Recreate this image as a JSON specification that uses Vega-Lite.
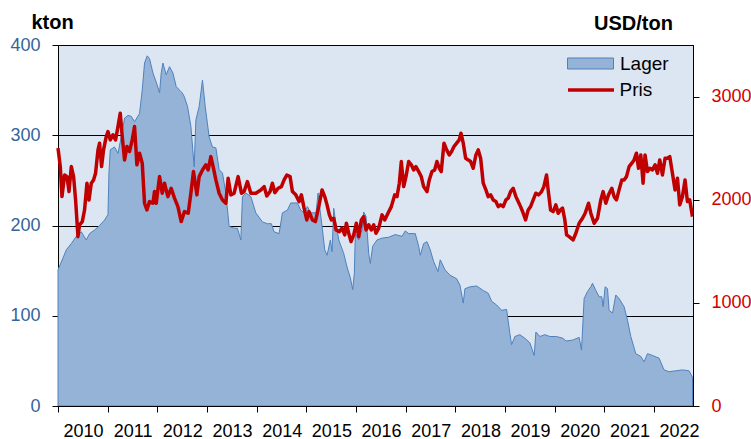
{
  "$schema": "https://vega.github.io/schema/vega-lite/v6.json",
  "width": 635,
  "height": 361,
  "autosize": {"type": "none"},
  "padding": {"left": 58, "top": 45, "right": 58, "bottom": 33},
  "background": "white",
  "config": {
    "view": {"fill": "#dce6f2", "stroke": "black", "strokeWidth": 1},
    "font": "Liberation Sans",
    "axis": {
      "domainColor": "black", "domainWidth": 1, "tickColor": "black", "tickWidth": 1,
      "gridColor": "black", "gridOpacity": 1, "gridWidth": 1,
      "labelFont": "Liberation Sans", "labelFontSize": 18, "tickSize": 6,
      "titleFont": "Liberation Sans", "titleColor": "black"
    },
    "legend": {"labelFont": "Liberation Sans", "labelFontSize": 19, "labelColor": "black", "padding": 0, "labelOffset": 19, "symbolSize": 400}
  },
  "datasets": {
    "lager": [
      {"t":2010.000,"v":151},{"t":2010.101,"v":164},{"t":2010.167,"v":173},{"t":2010.268,"v":180},{"t":2010.368,"v":188},{"t":2010.469,"v":193},{"t":2010.569,"v":184},{"t":2010.636,"v":191},{"t":2010.736,"v":195},{"t":2010.837,"v":200},{"t":2010.937,"v":206},{"t":2011.006,"v":212},{"t":2011.026,"v":258},{"t":2011.052,"v":284},{"t":2011.138,"v":287},{"t":2011.207,"v":280},{"t":2011.273,"v":298},{"t":2011.340,"v":319},{"t":2011.408,"v":322},{"t":2011.474,"v":321},{"t":2011.541,"v":315},{"t":2011.641,"v":324},{"t":2011.696,"v":350},{"t":2011.742,"v":380},{"t":2011.796,"v":388},{"t":2011.842,"v":385},{"t":2011.911,"v":369},{"t":2011.977,"v":359},{"t":2012.044,"v":347},{"t":2012.078,"v":369},{"t":2012.112,"v":380},{"t":2012.178,"v":367},{"t":2012.245,"v":376},{"t":2012.313,"v":369},{"t":2012.379,"v":354},{"t":2012.446,"v":350},{"t":2012.500,"v":347},{"t":2012.540,"v":343},{"t":2012.607,"v":332},{"t":2012.675,"v":310},{"t":2012.741,"v":265},{"t":2012.776,"v":317},{"t":2012.842,"v":332},{"t":2012.908,"v":361},{"t":2012.963,"v":332},{"t":2013.043,"v":298},{"t":2013.109,"v":287},{"t":2013.178,"v":286},{"t":2013.244,"v":262},{"t":2013.311,"v":258},{"t":2013.379,"v":236},{"t":2013.445,"v":199},{"t":2013.546,"v":197},{"t":2013.612,"v":197},{"t":2013.681,"v":184},{"t":2013.713,"v":232},{"t":2013.781,"v":236},{"t":2013.882,"v":232},{"t":2013.982,"v":214},{"t":2014.115,"v":204},{"t":2014.216,"v":202},{"t":2014.296,"v":202},{"t":2014.350,"v":193},{"t":2014.451,"v":191},{"t":2014.517,"v":214},{"t":2014.618,"v":217},{"t":2014.686,"v":225},{"t":2014.819,"v":225},{"t":2014.887,"v":217},{"t":2014.954,"v":214},{"t":2015.020,"v":221},{"t":2015.088,"v":214},{"t":2015.195,"v":214},{"t":2015.235,"v":236},{"t":2015.282,"v":214},{"t":2015.316,"v":199},{"t":2015.370,"v":173},{"t":2015.416,"v":167},{"t":2015.483,"v":184},{"t":2015.517,"v":171},{"t":2015.551,"v":219},{"t":2015.583,"v":206},{"t":2015.652,"v":184},{"t":2015.752,"v":169},{"t":2015.819,"v":154},{"t":2015.885,"v":142},{"t":2015.933,"v":129},{"t":2015.965,"v":147},{"t":2015.986,"v":191},{"t":2016.054,"v":184},{"t":2016.120,"v":195},{"t":2016.154,"v":215},{"t":2016.201,"v":210},{"t":2016.255,"v":169},{"t":2016.287,"v":158},{"t":2016.335,"v":177},{"t":2016.422,"v":184},{"t":2016.523,"v":186},{"t":2016.657,"v":187},{"t":2016.790,"v":190},{"t":2016.925,"v":188},{"t":2016.991,"v":194},{"t":2017.060,"v":191},{"t":2017.192,"v":191},{"t":2017.261,"v":177},{"t":2017.293,"v":167},{"t":2017.361,"v":180},{"t":2017.428,"v":182},{"t":2017.494,"v":173},{"t":2017.562,"v":160},{"t":2017.649,"v":149},{"t":2017.695,"v":162},{"t":2017.790,"v":151},{"t":2017.890,"v":145},{"t":2018.025,"v":141},{"t":2018.091,"v":134},{"t":2018.158,"v":114},{"t":2018.192,"v":130},{"t":2018.292,"v":132},{"t":2018.427,"v":133},{"t":2018.560,"v":128},{"t":2018.660,"v":125},{"t":2018.729,"v":116},{"t":2018.829,"v":112},{"t":2018.930,"v":106},{"t":2019.031,"v":107},{"t":2019.097,"v":80},{"t":2019.131,"v":68},{"t":2019.198,"v":77},{"t":2019.298,"v":79},{"t":2019.399,"v":75},{"t":2019.499,"v":70},{"t":2019.586,"v":56},{"t":2019.620,"v":82},{"t":2019.700,"v":77},{"t":2019.801,"v":79},{"t":2019.901,"v":77},{"t":2020.036,"v":77},{"t":2020.169,"v":75},{"t":2020.223,"v":72},{"t":2020.358,"v":73},{"t":2020.491,"v":76},{"t":2020.539,"v":62},{"t":2020.591,"v":119},{"t":2020.660,"v":127},{"t":2020.726,"v":132},{"t":2020.760,"v":136},{"t":2020.827,"v":128},{"t":2020.893,"v":121},{"t":2020.947,"v":121},{"t":2020.974,"v":110},{"t":2021.014,"v":132},{"t":2021.062,"v":130},{"t":2021.094,"v":106},{"t":2021.163,"v":103},{"t":2021.229,"v":123},{"t":2021.295,"v":119},{"t":2021.396,"v":110},{"t":2021.464,"v":95},{"t":2021.531,"v":77},{"t":2021.631,"v":58},{"t":2021.732,"v":55},{"t":2021.798,"v":49},{"t":2021.867,"v":58},{"t":2021.967,"v":56},{"t":2022.100,"v":53},{"t":2022.200,"v":40},{"t":2022.301,"v":38},{"t":2022.436,"v":39},{"t":2022.570,"v":40},{"t":2022.703,"v":39},{"t":2022.772,"v":32}
    ],
    "pris": [
      {"t":2010.000,"p":2500},{"t":2010.046,"p":2321},{"t":2010.080,"p":2030},{"t":2010.133,"p":2240},{"t":2010.181,"p":2224},{"t":2010.221,"p":2079},{"t":2010.268,"p":2321},{"t":2010.314,"p":2224},{"t":2010.354,"p":1998},{"t":2010.402,"p":1642},{"t":2010.434,"p":1756},{"t":2010.489,"p":1788},{"t":2010.535,"p":1901},{"t":2010.583,"p":2160},{"t":2010.624,"p":1998},{"t":2010.670,"p":2160},{"t":2010.716,"p":2192},{"t":2010.756,"p":2257},{"t":2010.805,"p":2483},{"t":2010.837,"p":2548},{"t":2010.877,"p":2321},{"t":2010.917,"p":2483},{"t":2010.971,"p":2612},{"t":2011.006,"p":2661},{"t":2011.052,"p":2580},{"t":2011.106,"p":2629},{"t":2011.159,"p":2580},{"t":2011.207,"p":2709},{"t":2011.253,"p":2839},{"t":2011.293,"p":2612},{"t":2011.340,"p":2386},{"t":2011.388,"p":2515},{"t":2011.440,"p":2467},{"t":2011.494,"p":2580},{"t":2011.541,"p":2709},{"t":2011.589,"p":2338},{"t":2011.641,"p":2451},{"t":2011.696,"p":2354},{"t":2011.742,"p":1966},{"t":2011.790,"p":1901},{"t":2011.842,"p":1982},{"t":2011.911,"p":1966},{"t":2011.943,"p":2079},{"t":2011.977,"p":1966},{"t":2012.044,"p":2224},{"t":2012.098,"p":2063},{"t":2012.144,"p":2160},{"t":2012.212,"p":2030},{"t":2012.279,"p":2111},{"t":2012.345,"p":2015},{"t":2012.414,"p":1933},{"t":2012.480,"p":1788},{"t":2012.546,"p":1885},{"t":2012.621,"p":1869},{"t":2012.675,"p":2063},{"t":2012.727,"p":2273},{"t":2012.796,"p":2047},{"t":2012.842,"p":2224},{"t":2012.908,"p":2289},{"t":2012.977,"p":2338},{"t":2013.023,"p":2289},{"t":2013.077,"p":2418},{"t":2013.130,"p":2305},{"t":2013.178,"p":2192},{"t":2013.244,"p":2063},{"t":2013.311,"p":1998},{"t":2013.379,"p":1966},{"t":2013.425,"p":2208},{"t":2013.480,"p":2047},{"t":2013.546,"p":2063},{"t":2013.626,"p":2224},{"t":2013.693,"p":2063},{"t":2013.747,"p":2079},{"t":2013.813,"p":2176},{"t":2013.882,"p":2063},{"t":2013.982,"p":2063},{"t":2014.083,"p":2095},{"t":2014.149,"p":2127},{"t":2014.204,"p":2037},{"t":2014.270,"p":2079},{"t":2014.316,"p":2160},{"t":2014.365,"p":2069},{"t":2014.431,"p":2111},{"t":2014.497,"p":2127},{"t":2014.552,"p":2192},{"t":2014.606,"p":2240},{"t":2014.672,"p":2224},{"t":2014.719,"p":2079},{"t":2014.787,"p":2047},{"t":2014.853,"p":1982},{"t":2014.900,"p":2047},{"t":2014.954,"p":1918},{"t":2015.008,"p":1804},{"t":2015.054,"p":1885},{"t":2015.121,"p":1804},{"t":2015.181,"p":1788},{"t":2015.249,"p":1933},{"t":2015.316,"p":2095},{"t":2015.370,"p":2030},{"t":2015.416,"p":1950},{"t":2015.463,"p":1853},{"t":2015.503,"p":1804},{"t":2015.551,"p":1820},{"t":2015.597,"p":1707},{"t":2015.664,"p":1691},{"t":2015.718,"p":1724},{"t":2015.772,"p":1659},{"t":2015.805,"p":1772},{"t":2015.853,"p":1675},{"t":2015.899,"p":1594},{"t":2015.953,"p":1659},{"t":2016.006,"p":1772},{"t":2016.054,"p":1642},{"t":2016.106,"p":1804},{"t":2016.154,"p":1836},{"t":2016.201,"p":1707},{"t":2016.255,"p":1756},{"t":2016.307,"p":1707},{"t":2016.356,"p":1756},{"t":2016.402,"p":1675},{"t":2016.456,"p":1724},{"t":2016.523,"p":1853},{"t":2016.577,"p":1804},{"t":2016.643,"p":1869},{"t":2016.710,"p":1933},{"t":2016.778,"p":2047},{"t":2016.824,"p":2030},{"t":2016.871,"p":2160},{"t":2016.911,"p":2370},{"t":2016.959,"p":2127},{"t":2017.005,"p":2224},{"t":2017.060,"p":2370},{"t":2017.112,"p":2338},{"t":2017.160,"p":2289},{"t":2017.206,"p":2321},{"t":2017.261,"p":2273},{"t":2017.313,"p":2224},{"t":2017.361,"p":2127},{"t":2017.428,"p":2079},{"t":2017.474,"p":2192},{"t":2017.528,"p":2273},{"t":2017.582,"p":2289},{"t":2017.629,"p":2370},{"t":2017.675,"p":2305},{"t":2017.715,"p":2273},{"t":2017.770,"p":2548},{"t":2017.824,"p":2483},{"t":2017.876,"p":2434},{"t":2017.924,"p":2467},{"t":2017.971,"p":2515},{"t":2018.025,"p":2548},{"t":2018.077,"p":2580},{"t":2018.112,"p":2645},{"t":2018.158,"p":2548},{"t":2018.206,"p":2402},{"t":2018.258,"p":2386},{"t":2018.307,"p":2370},{"t":2018.359,"p":2305},{"t":2018.413,"p":2434},{"t":2018.460,"p":2483},{"t":2018.508,"p":2402},{"t":2018.560,"p":2160},{"t":2018.614,"p":2095},{"t":2018.660,"p":2030},{"t":2018.709,"p":2047},{"t":2018.761,"p":1998},{"t":2018.815,"p":1982},{"t":2018.862,"p":1933},{"t":2018.910,"p":1950},{"t":2018.962,"p":1933},{"t":2019.017,"p":1998},{"t":2019.063,"p":2015},{"t":2019.111,"p":2079},{"t":2019.163,"p":2111},{"t":2019.218,"p":2030},{"t":2019.264,"p":1982},{"t":2019.312,"p":1933},{"t":2019.365,"p":1869},{"t":2019.413,"p":1804},{"t":2019.465,"p":1901},{"t":2019.513,"p":1933},{"t":2019.566,"p":1998},{"t":2019.620,"p":2063},{"t":2019.674,"p":2047},{"t":2019.735,"p":2079},{"t":2019.781,"p":2127},{"t":2019.835,"p":2240},{"t":2019.867,"p":2095},{"t":2019.916,"p":1901},{"t":2019.968,"p":1885},{"t":2020.022,"p":1950},{"t":2020.069,"p":1869},{"t":2020.117,"p":1901},{"t":2020.157,"p":1918},{"t":2020.203,"p":1804},{"t":2020.238,"p":1659},{"t":2020.290,"p":1642},{"t":2020.370,"p":1610},{"t":2020.425,"p":1675},{"t":2020.491,"p":1772},{"t":2020.559,"p":1820},{"t":2020.612,"p":1869},{"t":2020.680,"p":1966},{"t":2020.726,"p":1869},{"t":2020.793,"p":1772},{"t":2020.861,"p":1820},{"t":2020.927,"p":1998},{"t":2020.974,"p":2079},{"t":2021.028,"p":1966},{"t":2021.082,"p":2047},{"t":2021.149,"p":2111},{"t":2021.195,"p":2030},{"t":2021.243,"p":1998},{"t":2021.295,"p":2095},{"t":2021.350,"p":2192},{"t":2021.396,"p":2192},{"t":2021.444,"p":2224},{"t":2021.497,"p":2321},{"t":2021.551,"p":2354},{"t":2021.597,"p":2386},{"t":2021.645,"p":2451},{"t":2021.686,"p":2305},{"t":2021.732,"p":2434},{"t":2021.778,"p":2160},{"t":2021.818,"p":2434},{"t":2021.867,"p":2273},{"t":2021.913,"p":2305},{"t":2021.967,"p":2289},{"t":2022.020,"p":2338},{"t":2022.068,"p":2257},{"t":2022.114,"p":2386},{"t":2022.168,"p":2240},{"t":2022.221,"p":2402},{"t":2022.269,"p":2402},{"t":2022.315,"p":2418},{"t":2022.369,"p":2257},{"t":2022.422,"p":2095},{"t":2022.470,"p":2208},{"t":2022.516,"p":1950},{"t":2022.570,"p":2030},{"t":2022.623,"p":2192},{"t":2022.671,"p":1982},{"t":2022.717,"p":1998},{"t":2022.772,"p":1836}
    ]
  },
  "layer": [
    {
      "data": {"name": "lager"},
      "mark": {"type": "area", "stroke": "#4f81bd", "strokeWidth": 1, "opacity": 1, "fillOpacity": 1},
      "encoding": {
        "x": {
          "field": "t", "type": "quantitative",
          "scale": {"domain": [2010, 2022.783], "nice": false, "zero": false},
          "axis": {
            "values": [2010, 2011, 2012, 2013, 2014, 2015, 2016, 2017, 2018, 2019, 2020, 2021, 2022],
            "format": "d", "labelOffset": 25, "labelPadding": 10, "grid": false, "title": null,
            "labelColor": "black", "labelFlush": false, "labelOverlap": false, "labelBound": false, "zindex": 1
          }
        },
        "y": {
          "field": "v", "type": "quantitative",
          "scale": {"domain": [0, 400], "nice": false, "zero": true},
          "axis": {
            "values": [0, 100, 200, 300, 400], "grid": true, "format": "d",
            "title": "kton", "titleAngle": 0, "titleX": -6, "titleY": -17, "titleAlign": "center",
            "titleBaseline": "alphabetic", "titleFontSize": 20, "titleFontWeight": "bold",
            "labelColor": "#35649a", "labelPadding": 12, "labelFlush": false, "zindex": 0
          }
        },
        "fill": {
          "datum": "Lager", "type": "nominal",
          "scale": {"domain": ["Lager"], "range": ["#95b3d7"]},
          "legend": {
            "orient": "none", "legendX": 522, "legendY": 8, "title": null,
            "symbolType": "M-2.3,-0.55H2.3V0.55H-2.3Z",
            "symbolStrokeColor": "#4f81bd", "symbolStrokeWidth": 1, "symbolOpacity": 1
          }
        }
      }
    },
    {
      "data": {"name": "pris"},
      "mark": {"type": "line", "strokeWidth": 3.5, "strokeJoin": "round"},
      "encoding": {
        "x": {"field": "t", "type": "quantitative"},
        "y": {
          "field": "p", "type": "quantitative",
          "scale": {"domain": [0, 3500], "nice": false, "zero": true},
          "axis": {
            "orient": "right", "values": [0, 1000, 2000, 3000], "grid": false, "format": "d",
            "title": "USD/ton", "titleAngle": 0, "titleX": -60, "titleY": -16, "titleAlign": "center",
            "titleBaseline": "alphabetic", "titleFontSize": 20, "titleFontWeight": "bold",
            "labelColor": "#d00000", "labelPadding": 12, "labelAlign": "left", "labelFlush": false, "zindex": 1
          }
        },
        "stroke": {
          "datum": "Pris", "type": "nominal",
          "scale": {"domain": ["Pris"], "range": ["#c00000"]},
          "legend": {
            "orient": "none", "legendX": 521, "legendY": 33, "title": null, "labelOffset": 16.5,
            "symbolType": "M-2.3,0H2.3", "symbolStrokeWidth": 3.5, "symbolOpacity": 1
          }
        }
      }
    }
  ],
  "resolve": {"scale": {"y": "independent"}}
}
